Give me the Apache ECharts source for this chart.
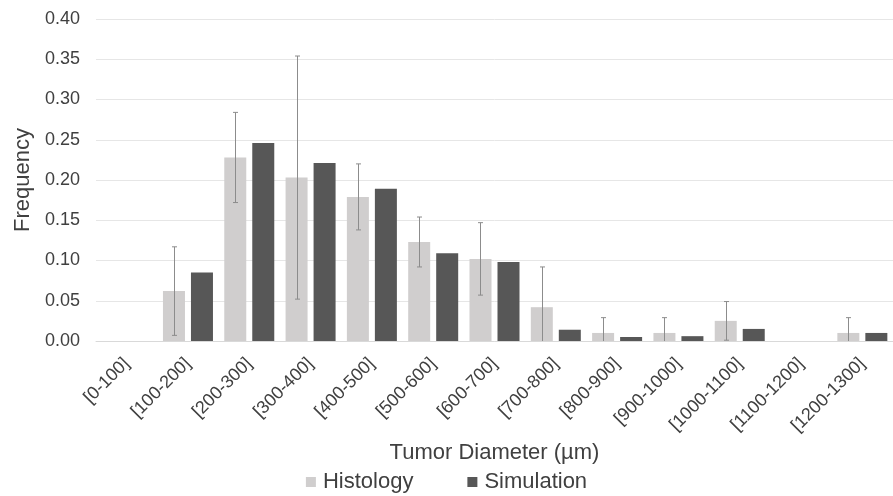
<!DOCTYPE html>
<html>
<head>
<meta charset="utf-8">
<script src="https://cdn.jsdelivr.net/npm/echarts@6/dist/echarts.min.js"></script>
<style>
  html, body { margin: 0; padding: 0; background: #ffffff; }
  #chart { width: 893px; height: 496px; }
</style>
</head>
<body>
<div id="chart"></div>
<script>
// Tumor diameter bins (µm)
const categories = ['[0-100]', '[100-200]', '[200-300]', '[300-400]', '[400-500]', '[500-600]',
  '[600-700]', '[700-800]', '[800-900]', '[900-1000]', '[1000-1100]', '[1100-1200]', '[1200-1300]'];

// Relative frequency per bin
const histology  = [0, 0.062, 0.228, 0.203, 0.179, 0.123, 0.102, 0.042, 0.010, 0.010, 0.025, 0, 0.010];
const simulation = [0, 0.085, 0.246, 0.221, 0.189, 0.109, 0.098, 0.014, 0.005, 0.006, 0.015, 0, 0.010];

// Standard deviation for the histology bins
const histologyErr = [0, 0.055, 0.056, 0.151, 0.041, 0.031, 0.045, 0.050, 0.019, 0.019, 0.024, 0, 0.019];

const yTicks = { min: 0, max: 0.40, interval: 0.05 };

const BAR_W = 22;
const BAR_GAP = 6;
const textColor = '#404040';
const font = 'Liberation Sans, Arial, sans-serif';

const errData = categories.map((c, i) => [i, histology[i], histologyErr[i]]);

const chart = echarts.init(document.getElementById('chart'), null, { renderer: 'canvas' });

chart.setOption({
  animation: false,
  backgroundColor: '#ffffff',
  grid: { left: 96, right: -10, top: 19, bottom: 155, containLabel: false },
  legend: {
    data: ['Histology', 'Simulation'],
    bottom: -2,
    left: 'center',
    itemWidth: 10,
    itemHeight: 10,
    itemGap: 54,
    icon: 'rect',
    textStyle: { fontFamily: font, fontSize: 22, color: textColor, padding: [0, 0, 0, 2] }
  },
  xAxis: {
    type: 'category',
    data: categories,
    name: 'Tumor Diameter (µm)',
    nameLocation: 'middle',
    nameGap: 99,
    nameTextStyle: { fontFamily: font, fontSize: 22, color: textColor },
    axisLine: { lineStyle: { color: '#d9d9d9', width: 1 } },
    axisTick: { show: false },
    axisLabel: {
      rotate: 45,
      margin: 20,
      interval: 0,
      fontFamily: font,
      fontSize: 18,
      color: textColor
    }
  },
  yAxis: {
    type: 'value',
    min: yTicks.min,
    max: yTicks.max,
    interval: yTicks.interval,
    name: 'Frequency',
    nameLocation: 'middle',
    nameGap: 62,
    nameTextStyle: { fontFamily: font, fontSize: 22, color: textColor },
    axisLine: { show: false },
    axisTick: { show: false },
    splitLine: { lineStyle: { color: '#e6e6e6', width: 1 } },
    axisLabel: {
      margin: 16,
      fontFamily: font,
      fontSize: 18,
      color: textColor,
      formatter: v => v.toFixed(2)
    }
  },
  series: [
    {
      name: 'Histology',
      type: 'bar',
      data: histology,
      barWidth: BAR_W,
      barGap: (BAR_GAP / BAR_W * 100) + '%',
      itemStyle: { color: '#d0cece' }
    },
    {
      name: 'Simulation',
      type: 'bar',
      data: simulation,
      barWidth: BAR_W,
      itemStyle: { color: '#575757' }
    },
    {
      name: 'Histology error',
      type: 'custom',
      data: errData,
      z: 10,
      silent: true,
      renderItem: function (params, api) {
        const idx = api.value(0);
        const mean = api.value(1);
        const sd = api.value(2);
        if (!sd) return null;
        const off = -(BAR_W + BAR_GAP) / 2;
        const hi = mean + sd;
        const lo = Math.max(0, mean - sd);
        const pHi = api.coord([idx, hi]);
        const pLo = api.coord([idx, lo]);
        const x = Math.round(pHi[0] + off) + 0.5;
        const cap = 2.5;
        const style = { stroke: '#8c8c8c', lineWidth: 1, fill: null };
        const children = [
          { type: 'line', shape: { x1: x, y1: pHi[1], x2: x, y2: pLo[1] }, style },
          { type: 'line', shape: { x1: x - cap, y1: pHi[1], x2: x + cap, y2: pHi[1] }, style }
        ];
        if (mean - sd >= 0) {
          children.push({ type: 'line', shape: { x1: x - cap, y1: pLo[1], x2: x + cap, y2: pLo[1] }, style });
        }
        return { type: 'group', children };
      }
    }
  ]
});
</script>
</body>
</html>
